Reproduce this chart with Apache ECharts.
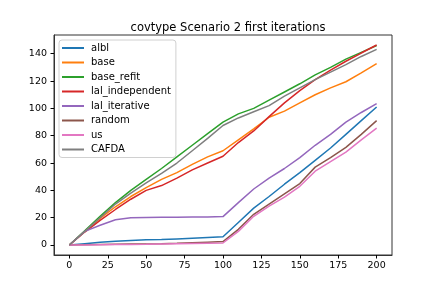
<!DOCTYPE html>
<html>
<head>
<meta charset="utf-8">
<script src="https://cdn.jsdelivr.net/npm/echarts@6/dist/echarts.min.js"></script>
<style>html,body{margin:0;padding:0;background:#fff}#c{width:436px;height:291px}</style>
</head>
<body>
<div id="c"></div>
<script>
const titleText = "covtype Scenario 2 first iterations";
const seriesNames = ["albl","base","base_refit","lal_independent","lal_iterative","random","us","CAFDA"];
const colors = ["#1f77b4","#ff7f0e","#2ca02c","#d62728","#9467bd","#8c564b","#e377c2","#7f7f7f"];
const xTicks = [0,25,50,75,100,125,150,175,200];
const yTicks = [0,20,40,60,80,100,120,140];

const iters = [0,10,20,30,40,50,60,70,80,90,100,110,120,130,140,150,160,170,180,190,200];
const albl =            [0,1,2,2.8,3.3,3.8,4,4.5,5,5.5,6,16.5,27,35.5,44.5,53,62,71,81,91,101];
const base =            [0,10,19.5,28,35.5,42,48,53,59,64.5,69,77,85,93.5,98,104,110,115,119.5,126,132.7];
const base_refit =      [0,10.5,21,31,40,48,56,64.5,73,81.5,90,96,100,106,112,118,124.5,130,136,141,146];
const lal_independent = [0,9.5,18,26,33.5,40,43.5,49,55,60,65,75,83.5,94,104,113,121,128,134.5,140.5,146.4];
const lal_iterative =   [0,10,14.5,18.5,20,20.2,20.3,20.4,20.5,20.6,20.8,31,41,49,56,64,73,81,90,97,103.5];
const random =          [0,0.2,0.4,0.6,0.7,0.8,1,1.3,1.7,2.1,2.5,11.5,22.5,30,37.5,45,57,64,71.5,81,91];
const us =              [0,0.1,0.2,0.3,0.4,0.5,0.7,0.9,1.1,1.3,1.5,10,21,28.5,35,43,54,61,68,77,85.5];
const CAFDA =           [0,10,20,30,38,45.5,52.5,60,69,78,87.5,93,97.5,102,109,115,121,126.5,132,138,143.2];

const allSeries = [albl, base, base_refit, lal_independent, lal_iterative, random, us, CAFDA];

const chart = echarts.init(document.getElementById('c'), null, {renderer: 'canvas'});
const font = 'DejaVu Sans';
chart.setOption({
  animation: false,
  backgroundColor: '#fff',
  title: {
    text: titleText, left: 223, top: 17, textAlign: 'center',
    textStyle: {fontFamily: font, fontSize: 11.5, fontWeight: 'normal', color: '#000'}
  },
  grid: {left: 54, right: 44, top: 35, bottom: 36, show: true, borderColor: '#333', borderWidth: 1, containLabel: false},
  legend: {
    orient: 'vertical', left: 59, top: 40,
    data: seriesNames,
    icon: 'rect', itemWidth: 22, itemHeight: 2, itemGap: 4.5,
    padding: [3, 5, 3, 3],
    backgroundColor: '#fff', borderColor: '#d0d0d0', borderWidth: 1, borderRadius: 3,
    textStyle: {fontFamily: font, fontSize: 10, color: '#000', padding: [0,0,0,2]}
  },
  xAxis: {
    type: 'value', min: -10, max: 210,
    splitLine: {show: false},
    axisLine: {show: true, onZero: false, lineStyle: {color: '#333', width: 1}},
    axisTick: {show: true, length: 3.5, lineStyle: {color: '#000'}, customValues: xTicks},
    axisLabel: {fontFamily: font, fontSize: 9.5, color: '#000', margin: 6, customValues: xTicks}
  },
  yAxis: {
    type: 'value', min: -7.3, max: 153.7,
    splitLine: {show: false},
    axisLine: {show: true, onZero: false, lineStyle: {color: '#333', width: 1}},
    axisTick: {show: true, length: 3.5, lineStyle: {color: '#000'}, customValues: yTicks},
    axisLabel: {fontFamily: font, fontSize: 9.5, color: '#000', margin: 7, customValues: yTicks}
  },
  series: seriesNames.map((n, i) => ({
    name: n, type: 'line', showSymbol: false, symbol: 'none',
    data: iters.map((x, j) => [x, allSeries[i][j]]),
    lineStyle: {color: colors[i], width: 1.5},
    itemStyle: {color: colors[i]}
  }))
});
</script>
</body>
</html>
